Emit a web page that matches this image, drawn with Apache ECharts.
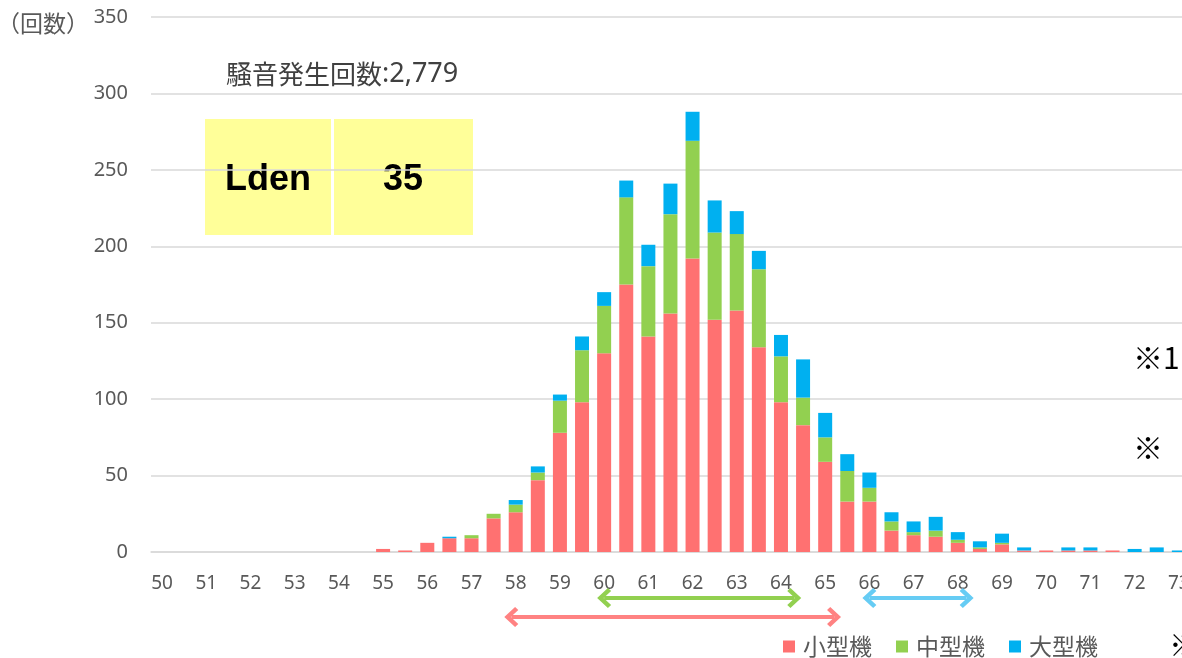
<!DOCTYPE html>
<html>
<head>
<meta charset="utf-8">
<script src="https://cdn.jsdelivr.net/npm/echarts@6/dist/echarts.min.js"></script>
<style>
  html, body { margin: 0; padding: 0; background: #fff; }
  #chart { width: 1182px; height: 658px; }
</style>
</head>
<body>
<div id="chart"></div>
<script>
// 騒音レベル別 発生回数 (0.5dB 刻み)
const levels = ['50','50.5','51','51.5','52','52.5','53','53.5','54','54.5',
  '55','55.5','56','56.5','57','57.5','58','58.5','59','59.5',
  '60','60.5','61','61.5','62','62.5','63','63.5','64','64.5',
  '65','65.5','66','66.5','67','67.5','68','68.5','69','69.5',
  '70','70.5','71','71.5','72','72.5','73','73.5'];

const smallCounts = [0,0,0,0,0,0,0,0,0,0,
  2,1,6,9,9,22,26,47,78,98,
  130,175,141,156,192,152,158,134,98,83,
  59,33,33,14,11,10,6,2,5,1,
  1,1,1,1,0,0,0,0];
const mediumCounts = [0,0,0,0,0,0,0,0,0,0,
  0,0,0,0,2,3,5,5,21,34,
  31,57,46,65,77,57,50,51,30,18,
  16,20,9,6,2,4,2,1,1,0,
  0,0,0,0,0,0,0,0];
const largeCounts = [0,0,0,0,0,0,0,0,0,0,
  0,0,0,1,0,0,3,4,4,9,
  9,11,14,20,19,21,15,12,14,25,
  16,11,10,6,7,9,5,4,6,2,
  0,2,2,0,2,3,1,0];

const seriesNames = ['小型機', '中型機', '大型機'];
const yTicks = [0, 50, 100, 150, 200, 250, 300, 350];

// 主な範囲 (dB)
const rangeSmall = [57.9, 65.2];
const rangeMedium = [60.0, 64.3];
const rangeLarge = [66.0, 68.2];

const totalCount = '2,779';
const ldenValue = '35';

const COLORS = { small: '#FF7171', medium: '#92D050', large: '#00B0F0' };
const ARROW = { small: '#FF8282', medium: '#92D050', large: '#66CCF4' };
const GRAY = '#595959';
const CJK = '"Noto Sans CJK JP", sans-serif';
const chevron = 'path://M10,0 L20,10 L17,13 L10,6 L3,13 L0,10 Z';

const chart = echarts.init(document.getElementById('chart'));

function arrow(range, row, color) {
  return [
    { coord: [range[0], row], lineStyle: { color, width: 4, type: 'solid' } },
    { coord: [range[1], row] }
  ];
}

const option = {
  animation: false,
  backgroundColor: '#ffffff',
  textStyle: { fontFamily: '"Noto Sans", "Noto Sans CJK JP", sans-serif' },
  title: {
    text: '{a|騒音発生回数}{b|:' + totalCount + '}',
    left: 221, top: 56,
    textStyle: {
      fontWeight: 'normal',
      rich: {
        a: { fontSize: 26, fontWeight: 'normal', color: '#404040', fontFamily: CJK },
        b: { fontSize: 27, fontWeight: 'normal', color: '#404040', fontFamily: '"Noto Sans", sans-serif' }
      }
    }
  },
  legend: {
    data: seriesNames,
    left: 783, top: 635, padding: 0,
    itemWidth: 12, itemHeight: 12, itemGap: 24,
    icon: 'rect',
    textStyle: { fontSize: 23, color: GRAY, padding: [0, 0, 0, 3], fontFamily: CJK }
  },
  grid: [
    { left: 151, width: 1061, top: 17, bottom: 106, containLabel: false, outerBoundsMode: 'none' },
    { left: 151, width: 1061, top: 590, bottom: 28, containLabel: false, outerBoundsMode: 'none' }
  ],
  xAxis: [{
    type: 'category',
    gridIndex: 0,
    data: levels,
    boundaryGap: true,
    axisLine: { lineStyle: { color: '#D9D9D9', width: 1.5 } },
    axisTick: { show: false },
    axisLabel: {
      color: GRAY, fontSize: 19, margin: 22,
      interval: (i, v) => Number.isInteger(+v)
    },
    splitLine: { show: false }
  }, {
    type: 'value',
    gridIndex: 1,
    min: 49.75, max: 73.75,
    show: false
  }],
  yAxis: [{
    type: 'value',
    gridIndex: 0,
    min: 0, max: 350, interval: 50,
    axisLine: { show: false },
    axisTick: { show: false },
    axisLabel: { color: GRAY, fontSize: 20, margin: 23,
      formatter: v => yTicks.includes(v) ? String(v) : '' },
    splitLine: { lineStyle: { color: '#D9D9D9', width: 1.5 } }
  }, {
    type: 'value',
    gridIndex: 1,
    min: 0, max: 4,
    show: false
  }],
  series: [{
    name: seriesNames[0], type: 'bar', stack: 'count',
    data: smallCounts, barWidth: 14,
    itemStyle: { color: COLORS.small }
  }, {
    name: seriesNames[1], type: 'bar', stack: 'count',
    data: mediumCounts, barWidth: 14,
    itemStyle: { color: COLORS.medium }
  }, {
    name: seriesNames[2], type: 'bar', stack: 'count',
    data: largeCounts, barWidth: 14,
    itemStyle: { color: COLORS.large }
  }, {
    // 範囲の矢印
    name: 'ranges', type: 'line',
    xAxisIndex: 1, yAxisIndex: 1,
    data: [],
    markLine: {
      silent: true, animation: false,
      symbol: [chevron, chevron],
      symbolSize: [20, 14],
      label: { show: false },
      lineStyle: { width: 4, type: 'solid' },
      data: [
        arrow(rangeSmall, 1.3, ARROW.small),
        arrow(rangeMedium, 3.2, ARROW.medium),
        arrow(rangeLarge, 3.2, ARROW.large)
      ]
    }
  }],
  graphic: [
    { type: 'text', x: -3, y: 23, style: { text: '（回数）', verticalAlign: 'middle',
      font: '23px ' + CJK, fill: GRAY } },
    { type: 'rect', shape: { x: 205, y: 119, width: 126, height: 116 }, style: { fill: '#FFFF99' } },
    { type: 'rect', shape: { x: 334, y: 119, width: 139, height: 116 }, style: { fill: '#FFFF99' } },
    { type: 'text', x: 268, y: 180, style: { text: 'Lden', align: 'center', verticalAlign: 'middle',
      font: 'bold 36px "Liberation Sans", Arial, sans-serif', fill: '#000' } },
    { type: 'text', x: 403, y: 180, style: { text: ldenValue, align: 'center', verticalAlign: 'middle',
      font: 'bold 36px "Liberation Sans", Arial, sans-serif', fill: '#000' } },
    { type: 'text', x: 1133, y: 358, style: { text: '※1', verticalAlign: 'middle',
      font: '30px ' + CJK, fill: '#000' } },
    { type: 'text', x: 1133, y: 448, style: { text: '※', verticalAlign: 'middle',
      font: '30px ' + CJK, fill: '#000' } },
    { type: 'text', x: 1169, y: 645, style: { text: '※', verticalAlign: 'middle',
      font: '30px ' + CJK, fill: '#000' } }
  ]
};

chart.setOption(option);
</script>
</body>
</html>
